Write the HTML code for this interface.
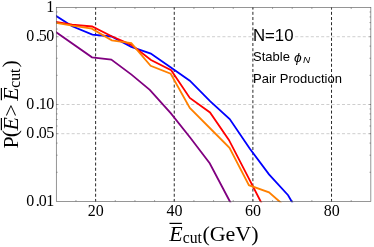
<!DOCTYPE html>
<html><head><meta charset="utf-8"><title>plot</title>
<style>
html,body{margin:0;padding:0;background:#fff;}
body{width:374px;height:247px;overflow:hidden;font-family:"Liberation Serif",serif;}
svg{display:block;}
svg{will-change:transform;}
.tk{font-family:"Liberation Serif",serif;font-size:16px;fill:#000;}
.ax{font-family:"Liberation Serif",serif;font-size:22px;fill:#000;}
.sub{font-family:"Liberation Serif",serif;font-size:15.7px;fill:#000;}
.sans{font-family:"Liberation Sans",sans-serif;fill:#000;}
</style></head><body>
<svg width="374" height="247" viewBox="0 0 374 247">
<rect x="0" y="0" width="374" height="247" fill="#fff"/>
<defs><clipPath id="cp"><rect x="55.90" y="7.15" width="315.35" height="194.70"/></clipPath>
<clipPath id="cq"><rect x="56.00" y="7.15" width="315.35" height="195.10"/></clipPath></defs>

<g clip-path="url(#cp)">
<line x1="56.10" y1="36.73" x2="371.85" y2="36.73" stroke="#c8c8c8" stroke-width="0.9" stroke-dasharray="3 2.198"/>
<line x1="56.10" y1="104.50" x2="371.85" y2="104.50" stroke="#c8c8c8" stroke-width="0.9" stroke-dasharray="3 2.198"/>
<line x1="56.10" y1="133.68" x2="371.85" y2="133.68" stroke="#c8c8c8" stroke-width="0.9" stroke-dasharray="3 2.198"/>
<line x1="95.62" y1="201.95" x2="95.62" y2="5" stroke="#1e1e1e" stroke-width="0.95" stroke-dasharray="3.0 2.198"/>
<line x1="174.26" y1="201.95" x2="174.26" y2="5" stroke="#1e1e1e" stroke-width="0.95" stroke-dasharray="3.0 2.198"/>
<line x1="252.89" y1="201.95" x2="252.89" y2="5" stroke="#1e1e1e" stroke-width="0.95" stroke-dasharray="3.0 2.198"/>
<line x1="331.53" y1="201.95" x2="331.53" y2="5" stroke="#1e1e1e" stroke-width="0.95" stroke-dasharray="3.0 2.198"/>
</g><g clip-path="url(#cq)">
<polyline points="55.2,15.4 72.2,26.3 92.4,34.7 111.6,36.5 131.3,46.9 150.8,53.6 170.9,67.5 189.8,80.7 210.3,101.3 229.7,119.1 249.7,148.5 269.0,174.4 288.1,195.2 291.7,201.5 293.0,204.0" fill="none" stroke="#0000ff" stroke-width="1.8" stroke-linejoin="miter"/>
<polyline points="55.2,21.8 72.2,24.7 92.1,26.5 111.6,36.3 131.3,44.9 151.0,60.0 171.2,70.2 189.8,97.9 210.0,112.5 228.9,139.9 249.7,180.2 260.7,201.5 262.0,204.0" fill="none" stroke="#ff0000" stroke-width="1.8" stroke-linejoin="miter"/>
<polyline points="55.2,22.7 72.2,25.7 91.8,28.6 111.8,40.4 131.3,43.2 150.6,65.8 170.7,73.7 189.8,107.9 210.3,128.5 229.5,147.8 248.9,185.2 269.0,192.3 279.5,201.5 282.0,204.0" fill="none" stroke="#ff8000" stroke-width="1.8" stroke-linejoin="miter"/>
<polyline points="55.2,31.5 92.0,57.3 111.3,59.6 131.5,74.6 149.8,89.8 170.7,113.2 190.5,138.0 209.7,163.3 229.9,201.5 231.2,204.0" fill="none" stroke="#800080" stroke-width="1.8" stroke-linejoin="miter"/>
</g>
<rect x="56.30" y="7.55" width="314.55" height="193.90" fill="none" stroke="#5e5e5e" stroke-width="0.65"/>
<path d="M75.96 201.45v-1.30M75.96 7.55v1.30M95.62 201.45v-1.30M95.62 7.55v1.30M115.28 201.45v-1.30M115.28 7.55v1.30M134.94 201.45v-1.30M134.94 7.55v1.30M154.60 201.45v-1.30M154.60 7.55v1.30M174.26 201.45v-1.30M174.26 7.55v1.30M193.92 201.45v-1.30M193.92 7.55v1.30M213.57 201.45v-1.30M213.57 7.55v1.30M233.23 201.45v-1.30M233.23 7.55v1.30M252.89 201.45v-1.30M252.89 7.55v1.30M272.55 201.45v-1.30M272.55 7.55v1.30M292.21 201.45v-1.30M292.21 7.55v1.30M311.87 201.45v-1.30M311.87 7.55v1.30M331.53 201.45v-1.30M331.53 7.55v1.30M351.19 201.45v-1.30M351.19 7.55v1.30M56.30 11.99h1.30M370.85 11.99h-1.30M56.30 16.95h1.30M370.85 16.95h-1.30M56.30 22.57h1.30M370.85 22.57h-1.30M56.30 29.06h1.30M370.85 29.06h-1.30M56.30 36.73h1.30M370.85 36.73h-1.30M56.30 46.13h1.30M370.85 46.13h-1.30M56.30 58.24h1.30M370.85 58.24h-1.30M56.30 75.32h1.30M370.85 75.32h-1.30M56.30 104.50h1.30M370.85 104.50h-1.30M56.30 108.94h1.30M370.85 108.94h-1.30M56.30 113.90h1.30M370.85 113.90h-1.30M56.30 119.52h1.30M370.85 119.52h-1.30M56.30 126.01h1.30M370.85 126.01h-1.30M56.30 133.68h1.30M370.85 133.68h-1.30M56.30 143.08h1.30M370.85 143.08h-1.30M56.30 155.19h1.30M370.85 155.19h-1.30M56.30 172.27h1.30M370.85 172.27h-1.30" stroke="#5e5e5e" stroke-width="0.65" fill="none"/>
<text class="tk" x="95.82" y="215.7" text-anchor="middle">20</text>
<text class="tk" x="174.46" y="215.7" text-anchor="middle">40</text>
<text class="tk" x="253.09" y="215.7" text-anchor="middle">60</text>
<text class="tk" x="331.73" y="215.7" text-anchor="middle">80</text>
<text class="tk" x="54.3" y="11.95" text-anchor="end">1</text>
<text class="tk" x="54.2" y="41.33" text-anchor="end">0<tspan dx="1.5">.</tspan><tspan dx="-1.0">5</tspan><tspan dx="-0.5">0</tspan></text>
<text class="tk" x="54.2" y="109.10" text-anchor="end">0<tspan dx="1.5">.</tspan><tspan dx="-1.0">1</tspan><tspan dx="-0.5">0</tspan></text>
<text class="tk" x="54.2" y="138.28" text-anchor="end">0<tspan dx="1.5">.</tspan><tspan dx="-1.0">0</tspan><tspan dx="-0.5">5</tspan></text>
<text class="tk" x="54.2" y="206.05" text-anchor="end">0<tspan dx="1.5">.</tspan><tspan dx="-1.0">0</tspan><tspan dx="-0.5">1</tspan></text>
<text class="ax" x="169.3" y="240.7" font-style="italic">E</text>
<line x1="169.5" y1="223.4" x2="181.9" y2="223.4" stroke="#000" stroke-width="1.2"/>
<text class="sub" x="182.8" y="243.1">cut</text>
<text class="ax" x="202.4" y="240.7">(GeV)</text>
<g transform="translate(17.9,148.4) rotate(-90)">
<text class="ax" x="0" y="0">P</text>
<text class="ax" x="11.1" y="-0.7">(</text>
<text class="ax" x="17.8" y="0" font-style="italic">E</text>
<line x1="18.2" y1="-16.5" x2="30.4" y2="-16.5" stroke="#000" stroke-width="1.2"/>
<text class="ax" x="31.85" y="0">&gt;</text>
<text class="ax" x="47.65" y="0" font-style="italic">E</text>
<line x1="48.05" y1="-16.5" x2="60.45" y2="-16.5" stroke="#000" stroke-width="1.2"/>
<text class="sub" x="60.7" y="2.5">cut</text>
<text class="ax" x="81.0" y="-0.7">)</text>
</g>
<text class="sans" x="252.9" y="40.7" font-size="16" textLength="40.6" lengthAdjust="spacingAndGlyphs">N=10</text>
<text class="sans" x="253" y="61.1" font-size="13">Stable</text>
<text class="sans" transform="translate(293.9,61.6) scale(1.05,1)" font-size="13.2" font-style="italic">ϕ</text>
<text class="sans" transform="translate(302.9,63.1) scale(1.02,1)" font-size="9.8" font-style="italic">N</text>
<text class="sans" x="253" y="83" font-size="13">Pair Production</text>
</svg></body></html>
